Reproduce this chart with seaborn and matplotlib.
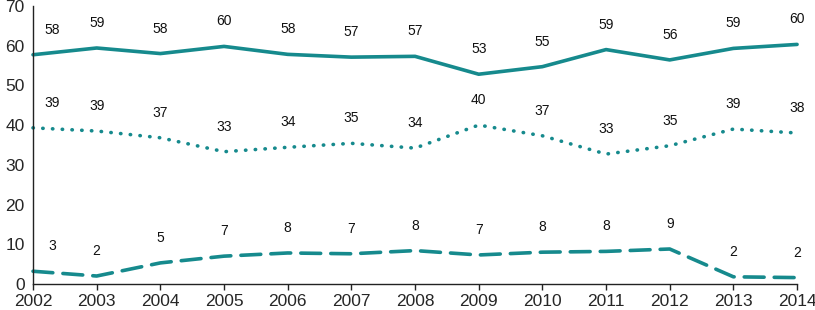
import matplotlib
matplotlib.use('Agg')
import matplotlib.pyplot as plt
import numpy as np
import pandas as pd
import seaborn as sns

YEARS = list(range(2002, 2015))
SOLID = [57.7, 59.4, 58.0, 59.8, 57.8, 57.1, 57.3, 52.8, 54.7, 59.0, 56.4, 59.3, 60.3]
DOTTED = [39.3, 38.5, 36.8, 33.3, 34.4, 35.4, 34.2, 40.0, 37.3, 32.7, 34.8, 39.0, 38.0]
DASHED = [3.2, 2.0, 5.3, 7.0, 7.8, 7.6, 8.4, 7.3, 8.0, 8.2, 8.8, 1.8, 1.6]
SOLID_LABELS = [58, 59, 58, 60, 58, 57, 57, 53, 55, 59, 56, 59, 60]
DOTTED_LABELS = [39, 39, 37, 33, 34, 35, 34, 40, 37, 33, 35, 39, 38]
DASHED_LABELS = [3, 2, 5, 7, 8, 7, 8, 7, 8, 8, 9, 2, 2]

TEAL = '#168a8d'

df = pd.concat([
    pd.DataFrame({'year': YEARS, 'value': SOLID, 'series': 'solid'}),
    pd.DataFrame({'year': YEARS, 'value': DOTTED, 'series': 'dotted'}),
    pd.DataFrame({'year': YEARS, 'value': DASHED, 'series': 'dashed'}),
])

sns.set_style('white')
plt.rcParams['font.family'] = ['Liberation Sans', 'DejaVu Sans']

fig = plt.figure(figsize=(8.15, 3.10), dpi=100)
ax = fig.add_axes([0.0405, 0.084, 0.9375, 0.897])

sns.lineplot(
    data=df, x='year', y='value', style='series',
    dashes={'solid': '', 'dotted': (0.1, 2.6), 'dashed': (5.5, 2.8)},
    color=TEAL, linewidth=2.6, legend=False, ax=ax,
)
for line in ax.get_lines():
    line.set_dash_capstyle('round')
    line.set_solid_capstyle('round')
    line.set_clip_on(False)

for values, labels in [(SOLID, SOLID_LABELS), (DOTTED, DOTTED_LABELS), (DASHED, DASHED_LABELS)]:
    for i, (x, y, lab) in enumerate(zip(YEARS, values, labels)):
        dx = 14 if i == 0 else 0
        ax.annotate(str(lab), (x, y), xytext=(dx, 18), textcoords='offset points',
                    ha='center', va='center', fontsize=10, color='#111111')

ax.set_xlim(2002, 2014)
ax.set_ylim(0, 70)
ax.set_xticks(YEARS)
ax.set_yticks(range(0, 71, 10))
ax.set_xlabel('')
ax.set_ylabel('')
ax.tick_params(axis='x', length=4, width=1, color='#222222', labelsize=12.5, pad=3, bottom=True)
ax.tick_params(axis='y', length=0, labelsize=12.5, pad=6)
sns.despine(ax=ax)
for side in ['left', 'bottom']:
    ax.spines[side].set_color('#222222')
    ax.spines[side].set_linewidth(1)

fig.savefig('out.png', dpi=100)
